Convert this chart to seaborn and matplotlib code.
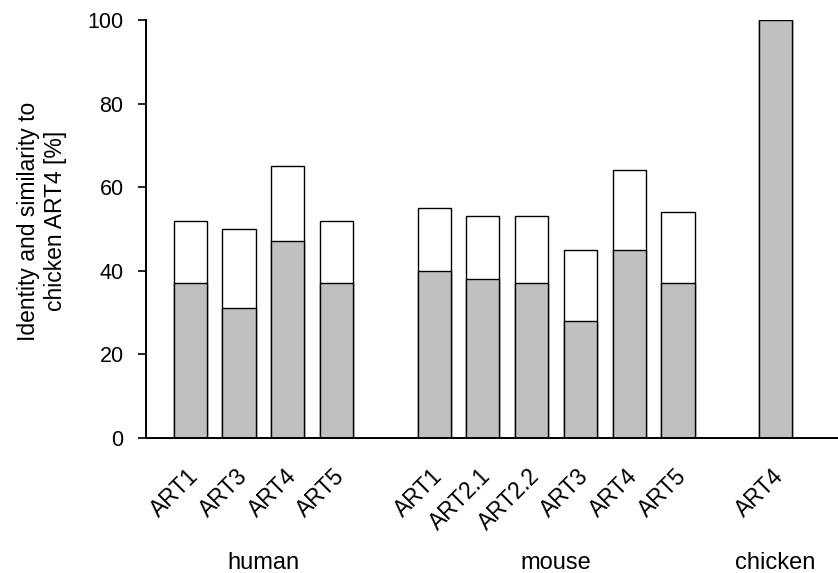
import matplotlib.pyplot as plt
import matplotlib.transforms as mtransforms
import numpy as np
import seaborn as sns
import pandas as pd

# slots along the x axis ('gap' slots stay empty between species)
slots = ['h1', 'h3', 'h4', 'h5', 'gap1',
         'm1', 'm21', 'm22', 'm3', 'm4', 'm5', 'gap2', 'c4']
tick_labels = ['ART1', 'ART3', 'ART4', 'ART5', '',
               'ART1', 'ART2.1', 'ART2.2', 'ART3', 'ART4', 'ART5', '', 'ART4']

proteins = ['h1', 'h3', 'h4', 'h5', 'm1', 'm21', 'm22', 'm3', 'm4', 'm5', 'c4']
identity = [37, 31, 47, 37, 40, 38, 37, 28, 45, 37, 100]
similarity = [52, 50, 65, 52, 55, 53, 53, 45, 64, 54, 100]

groups = ['human', 'mouse', 'chicken']
group_pos = [1.5, 7.5, 12]

data = pd.DataFrame({'protein': proteins, 'identity': identity, 'similarity': similarity})

sns.set_style("ticks")
plt.rcParams['font.family'] = ['Liberation Sans', 'DejaVu Sans']
plt.rcParams['text.color'] = 'black'
plt.rcParams['axes.labelcolor'] = 'black'
plt.rcParams['xtick.color'] = 'black'
plt.rcParams['ytick.color'] = 'black'

fig = plt.figure(figsize=(8.38, 5.73), dpi=100)
ax = fig.add_axes([0.174, 0.236, 0.826, 0.729])

sns.barplot(x='protein', y='similarity', data=data, order=slots, color='white',
            edgecolor='black', linewidth=1, width=0.68, saturation=1, ax=ax)
sns.barplot(x='protein', y='identity', data=data, order=slots, color='#c0c0c0',
            edgecolor='black', linewidth=1, width=0.68, saturation=1, ax=ax)

ax.set_ylim(0, 100)
ax.set_xlim(-0.91, 13.28)
ax.set_yticks([0, 20, 40, 60, 80, 100])
ax.tick_params(axis='y', labelsize=15.5, length=6, width=1.2, pad=10)
ax.tick_params(axis='x', length=0, pad=25, labelsize=16.3)
ax.set_xticks(range(len(slots)))
ax.set_xticklabels(tick_labels, rotation=45, ha='right', va='center', rotation_mode='anchor')
shift = mtransforms.ScaledTranslation(3.5 / 72, 0, fig.dpi_scale_trans)
for lab in ax.get_xticklabels():
    lab.set_transform(lab.get_transform() + shift)

for side in ['top', 'right']:
    ax.spines[side].set_visible(False)
for side in ['left', 'bottom']:
    ax.spines[side].set_linewidth(1.4)
    ax.spines[side].set_color('black')

ax.set_xlabel('')
ax.set_ylabel('Identity and similarity to\nchicken ART4 [%]', fontsize=16.5)
ax.yaxis.set_label_coords(-0.114, 0.519)

for name, pos in zip(groups, group_pos):
    ax.text(pos, -0.313, name, transform=ax.get_xaxis_transform(),
            ha='center', va='baseline', fontsize=17)

plt.savefig('out.png', dpi=100)
